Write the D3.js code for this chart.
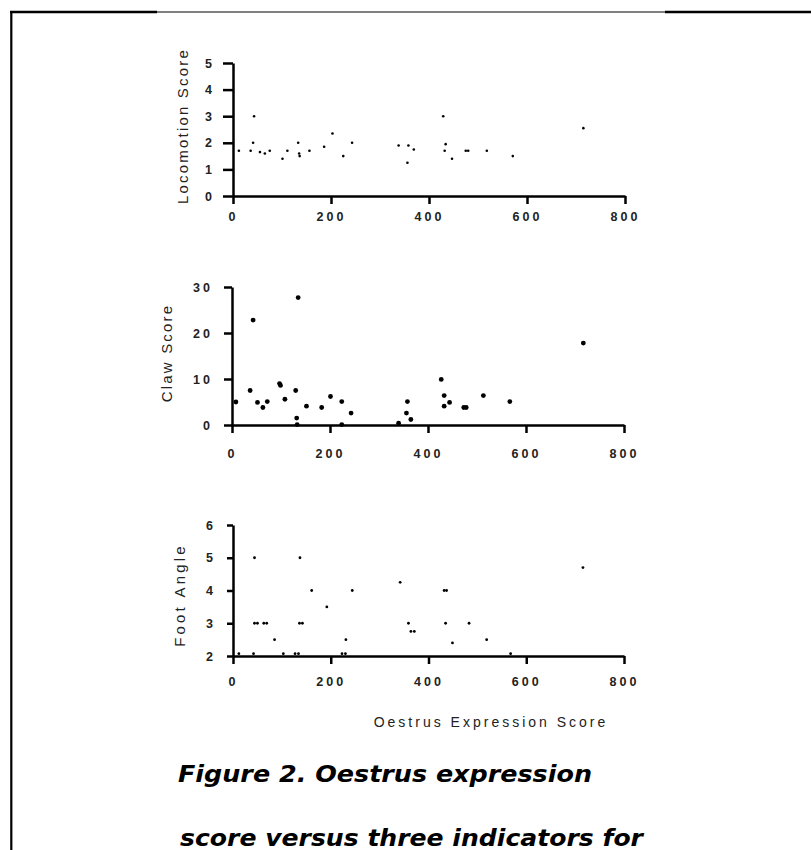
<!DOCTYPE html>
<html>
<head>
<meta charset="utf-8">
<script src="https://cdn.jsdelivr.net/npm/d3@7/dist/d3.min.js"></script>
<style>
    body { margin: 0; background: #fff; }
    .tick text { font-family: "Liberation Sans", Arial, sans-serif; fill: #222; }
</style>
</head>
<body>
<div id="figure"></div>
<script>
// data

var xTicks = [0, 200, 400, 600, 800];

// top panel: locomotion
var oestrusLoco = [12, 36, 43, 41, 55, 65, 75, 101, 111, 133, 135, 136, 156, 186, 203, 225, 243, 338, 356, 358, 369, 429, 432, 434, 447, 475, 480, 518, 571, 715];
var locomotion = [1.7, 1.7, 3.0, 2.0, 1.65, 1.6, 1.7, 1.4, 1.7, 2.0, 1.6, 1.5, 1.7, 1.85, 2.35, 1.5, 2.0, 1.9, 1.25, 1.9, 1.75, 3.0, 1.7, 1.95, 1.4, 1.7, 1.7, 1.7, 1.5, 2.55];
var locoTicks = [0, 1, 2, 3, 4, 5];

// middle panel: claw
var oestrusClaw = [8, 37, 43, 52, 63, 72, 97, 99, 108, 130, 132, 135, 133, 152, 183, 201, 224, 224, 243, 340, 356, 358, 365, 427, 433, 433, 444, 473, 478, 513, 567, 717];
var claw = [5, 7.5, 22.8, 4.9, 3.8, 5.1, 9, 8.6, 5.6, 7.5, 1.5, 27.7, 0.1, 4.1, 3.8, 6.2, 5.1, 0.1, 2.6, 0.4, 2.6, 5.1, 1.2, 9.9, 6.4, 4.1, 4.9, 3.8, 3.8, 6.4, 5.1, 17.8];
var clawTicks = [0, 10, 20, 30];

// bottom panel: foot angle
var oestrusFoot = [44, 44, 50, 63, 69, 85, 137, 136, 142, 161, 192, 231, 244, 342, 359, 364, 371, 432, 437, 435, 449, 483, 519, 716, 12, 42, 103, 127, 134, 223, 230, 568];
var footAngle = [5, 3, 3, 3, 3, 2.5, 5, 3, 3, 4, 3.5, 2.5, 4, 4.25, 3, 2.75, 2.75, 4, 4, 3, 2.4, 3, 2.5, 4.7, 2.07, 2.07, 2.07, 2.07, 2.07, 2.07, 2.07, 2.07];
var footTicks = [2, 3, 4, 5, 6];

var captionLines = ["Figure 2. Oestrus expression", "score versus three indicators for"];

var width = 811;
var height = 850;

var svg = d3.select('#figure')
    .append('svg')
    .attr('width', width)
    .attr('height', height);

// page frame (top edge + left edge)
svg.append('line').attr('x1', 10).attr('x2', 157).attr('y1', 12).attr('y2', 12)
    .attr('stroke', '#000').attr('stroke-width', 2.4);
svg.append('line').attr('x1', 157).attr('x2', 665).attr('y1', 12).attr('y2', 12)
    .attr('stroke', '#000').attr('stroke-width', 1);
svg.append('line').attr('x1', 665).attr('x2', 811).attr('y1', 12).attr('y2', 12)
    .attr('stroke', '#000').attr('stroke-width', 2.4);
svg.append('line').attr('x1', 11.3).attr('x2', 11.3).attr('y1', 11).attr('y2', height)
    .attr('stroke', '#000').attr('stroke-width', 2.2);

var panels = [
    { xs: oestrusLoco, ys: locomotion, yTicks: locoTicks, title: "Locomotion Score",
      left: 233, right: 625, top: 63, bottom: 196, r: 1.3,
      xTick: 8, xPad: 8, yTick: 10, yPad: 8, titleX: 183, titleY: 126 },
    { xs: oestrusClaw, ys: claw, yTicks: clawTicks, title: "Claw Score",
      left: 232, right: 624, top: 287, bottom: 425, r: 2.4,
      xTick: 8, xPad: 16, yTick: 8, yPad: 11, titleX: 167, titleY: 353 },
    { xs: oestrusFoot, ys: footAngle, yTicks: footTicks, title: "Foot Angle",
      left: 233, right: 624, top: 525, bottom: 656, r: 1.4,
      xTick: 8, xPad: 13, yTick: 6, yPad: 11, titleX: 180, titleY: 595 }
];

panels.forEach(function (p) {
    var x = d3.scaleLinear()
        .domain([0, 800])
        .range([p.left, p.right]);
    var y = d3.scaleLinear()
        .domain([p.yTicks[0], p.yTicks[p.yTicks.length - 1]])
        .range([p.bottom, p.top]);

    var xAxis = d3.axisBottom(x)
        .tickValues(xTicks)
        .tickFormat(d3.format('d'))
        .tickSize(p.xTick)
        .tickSizeOuter(0)
        .tickPadding(p.xPad);
    var yAxis = d3.axisLeft(y)
        .tickValues(p.yTicks)
        .tickFormat(d3.format('d'))
        .tickSize(p.yTick)
        .tickSizeOuter(0)
        .tickPadding(p.yPad);

    var gX = svg.append('g')
        .attr('transform', 'translate(0,' + p.bottom + ')')
        .call(xAxis);
    var gY = svg.append('g')
        .attr('transform', 'translate(' + p.left + ',0)')
        .call(yAxis);

    [gX, gY].forEach(function (g) {
        g.select('.domain').attr('stroke', '#000').attr('stroke-width', 2.5);
        g.selectAll('.tick line').attr('stroke', '#000').attr('stroke-width', 2.5);
        g.selectAll('.tick text')
            .attr('font-size', 12.5)
            .attr('font-weight', 'bold')
            .style('letter-spacing', '3px');
    });

    // y title
    svg.append('text')
        .attr('transform', 'translate(' + p.titleX + ',' + p.titleY + ') rotate(-90)')
        .attr('text-anchor', 'middle')
        .attr('dy', '0.35em')
        .attr('font-family', '"Liberation Sans", Arial, sans-serif')
        .attr('font-size', 15)
        .attr('fill', '#222')
        .style('letter-spacing', p.title == "Foot Angle" ? '3.2px' : '2.2px')
        .text(p.title);

    svg.append('g').selectAll('circle')
        .data(p.xs.map(function (v, i) { return { x: v, y: p.ys[i] }; }))
        .enter()
        .append('circle')
        .attr('cx', d => x(d.x))
        .attr('cy', d => y(d.y))
        .attr('r', p.r)
        .attr('fill', '#000');
});

// shared x title
svg.append('text')
    .attr('x', 491)
    .attr('y', 727)
    .attr('text-anchor', 'middle')
    .attr('font-family', '"Liberation Sans", Arial, sans-serif')
    .attr('font-size', 14)
    .attr('fill', '#222')
    .style('letter-spacing', '3px')
    .text("Oestrus Expression Score");

// caption
svg.append('text')
    .attr('x', 178)
    .attr('y', 782)
    .attr('font-family', '"DejaVu Sans", Verdana, sans-serif')
    .attr('font-size', 23)
    .attr('font-weight', 'bold')
    .attr('font-style', 'italic')
    .attr('textLength', 414)
    .attr('lengthAdjust', 'spacingAndGlyphs')
    .text(captionLines[0]);
svg.append('text')
    .attr('x', 180)
    .attr('y', 846)
    .attr('font-family', '"DejaVu Sans", Verdana, sans-serif')
    .attr('font-size', 23)
    .attr('font-weight', 'bold')
    .attr('font-style', 'italic')
    .attr('textLength', 463)
    .attr('lengthAdjust', 'spacingAndGlyphs')
    .text(captionLines[1]);
</script>
</body>
</html>
